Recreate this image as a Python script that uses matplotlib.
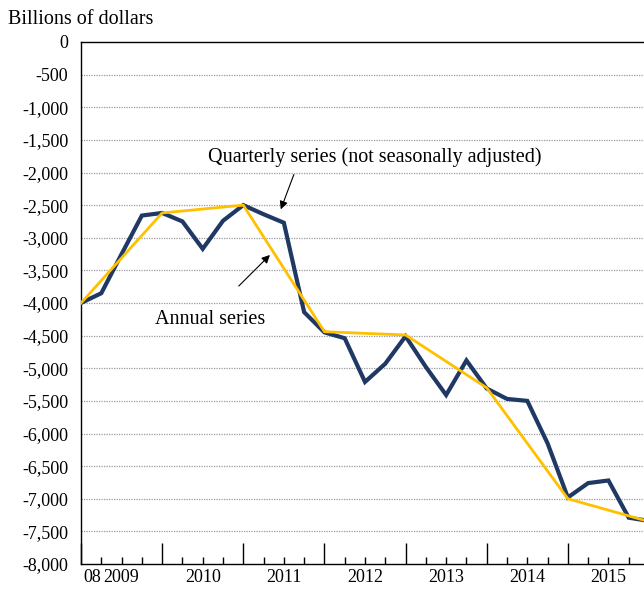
import matplotlib.pyplot as plt
import matplotlib.transforms as mtransforms

plt.rcParams['font.family'] = ['Liberation Serif', 'DejaVu Serif']

# quarterly positions: index 0 = first quarter shown, 4 quarters per year
quarterly = [-4000, -3850, -3250, -2660, -2620, -2750, -3170, -2740,
             -2500, -2640, -2770, -4140, -4450, -4540, -5210, -4930,
             -4510, -4980, -5410, -4880, -5310, -5470, -5500, -6150,
             -6980, -6760, -6720, -7290, -7340]
annual = [-4000, -2620, -2500, -4440, -4490, -5300, -7000, -7350]
years = ["2009", "2010", "2011", "2012", "2013", "2014", "2015"]
yticks = list(range(0, -8001, -500))

navy = "#1F3864"
gold = "#FFC000"

fig = plt.figure(figsize=(6.44, 5.90), dpi=100)
ax = fig.add_axes([81 / 644, 26 / 590, 568 / 644, 522 / 590])

q_x = list(range(len(quarterly)))
a_x = [4 * i for i in range(len(annual))]

ax.plot(q_x, quarterly, color=navy, lw=3.0, solid_joinstyle="miter", zorder=3)
ax.plot(a_x, annual, color=gold, lw=2.0, zorder=4)

ax.set_xlim(0, 28)
ax.set_ylim(-8000, 0)

ax.set_yticks(yticks)
ax.set_yticklabels([f"{v:,}" for v in yticks], fontsize=13)
ax.tick_params(axis="y", length=0, pad=9)
for v in yticks[1:-1]:
    ax.axhline(v, color="#9a9a9a", lw=0.9, ls=(0, (1, 1)), zorder=1)

ax.set_xticks(range(0, 29, 4))
ax.set_xticks(range(0, 29), minor=True)
ax.set_xticklabels([])
ax.tick_params(axis="x", which="major", direction="in", length=15, width=1)
ax.tick_params(axis="x", which="minor", direction="in", length=5, width=1)

trans = mtransforms.blended_transform_factory(ax.transData, ax.transAxes)
for i, y in enumerate(years):
    ax.text(2 + 4 * i, -0.01, y, transform=trans, ha="center", va="top", fontsize=13)
ax.text(0.55, -0.01, "08", transform=trans, ha="center", va="top", fontsize=13)

ax.spines["right"].set_visible(False)
for s in ["left", "bottom", "top"]:
    ax.spines[s].set_linewidth(1.0)

fig.text(8 / 644, 1 - 20 / 590, "Billions of dollars", fontsize=14.5, va="center", ha="left")

ax.text(14.46, -1762, "Quarterly series (not seasonally adjusted)", ha="center",
        va="center", fontsize=14.5)
ax.annotate("", xy=(9.80, -2605), xytext=(10.54, -1992),
            arrowprops=dict(arrowstyle="-|>", color="black", lw=0.8, mutation_scale=12))
ax.text(6.35, -4260, "Annual series", ha="center", va="center", fontsize=14.5)
ax.annotate("", xy=(9.41, -3234), xytext=(7.68, -3770),
            arrowprops=dict(arrowstyle="-|>", color="black", lw=0.8, mutation_scale=12))

plt.savefig("out.png", dpi=100)
